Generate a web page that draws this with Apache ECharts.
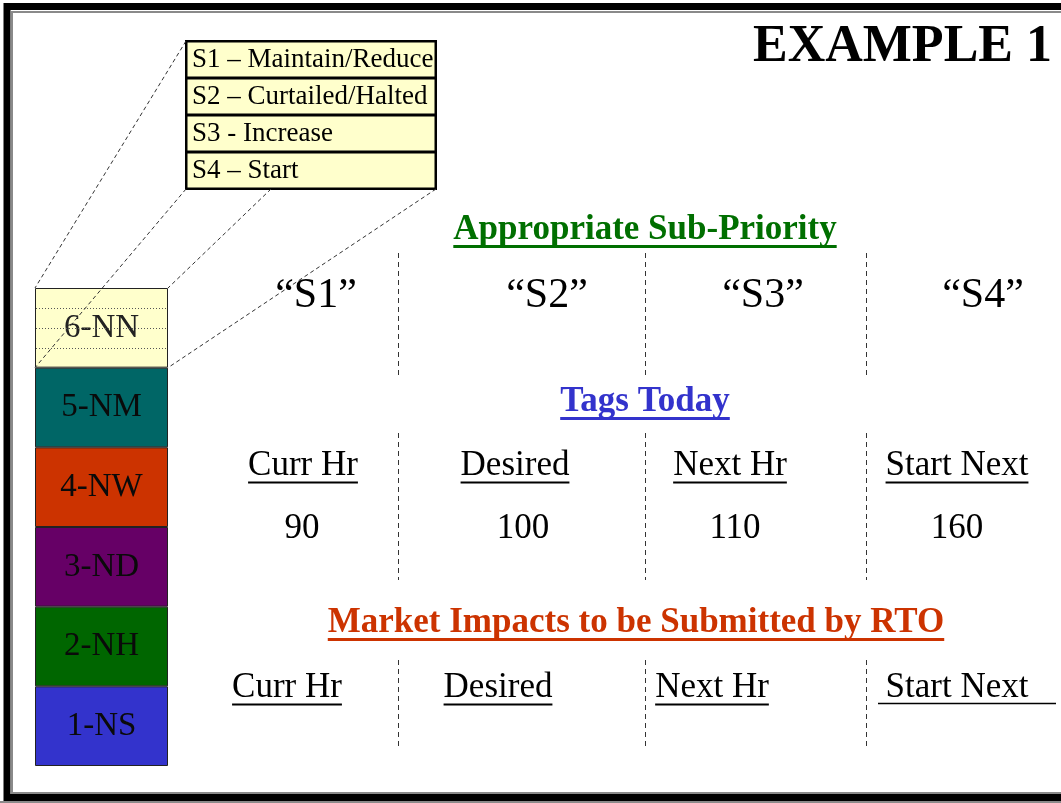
<!DOCTYPE html>
<html><head><meta charset="utf-8">
<script src="https://cdn.jsdelivr.net/npm/echarts@6/dist/echarts.min.js"></script>
<style>html,body{margin:0;padding:0;background:#fff;overflow:hidden}#c{width:1061px;height:803px}</style>
</head><body><div id="c"></div>
<script>
// ---- data ----
const blockLabels = ['1-NS', '2-NH', '3-ND', '4-NW', '5-NM', '6-NN'];
const blockValues = [1, 1, 1, 1, 1, 1];
const subPriorityNames = ['S1 – Maintain/Reduce', 'S2 – Curtailed/Halted', 'S3 - Increase', 'S4 – Start'];
const subPriorityValues = [1, 1, 1, 1];
const subPriorityCodes = ['“S1”', '“S2”', '“S3”', '“S4”'];
const columnLabels = ['Curr Hr', 'Desired', 'Next Hr', 'Start Next'];
const tagsTodayValues = [90, 100, 110, 160];
const titleText = 'EXAMPLE 1';
const headings = ['Appropriate Sub-Priority', 'Tags Today', 'Market Impacts to be Submitted by RTO'];

// ---- styles / layout ----
const blockColors = ['#3333cc', '#006600', '#660066', '#cc3300', '#006666', '#ffffcc'];
const FF = '"Liberation Serif","Times New Roman",serif';
const stackGrid = { left: 35, top: 288, width: 133, height: 478 };
const legendGrid = { left: 186, top: 41, width: 250, height: 148 };

const chart = echarts.init(document.getElementById('c'), null, { renderer: 'canvas' });

const series = blockLabels.map((name, i) => ({
  type: 'bar', name: name, stack: 'p', xAxisIndex: 0, yAxisIndex: 0,
  barWidth: '100%', data: [blockValues[i]],
  itemStyle: { color: blockColors[i], borderColor: '#222', borderWidth: 1 },
  label: { show: true, position: 'inside', formatter: name, fontFamily: FF, fontSize: 33, color: i === 5 ? '#222' : '#0a0a0a' }
}));
series.push({
  type: 'bar', xAxisIndex: 1, yAxisIndex: 1, barWidth: '100%', data: subPriorityValues,
  itemStyle: { color: '#ffffcc', borderColor: '#000', borderWidth: 1.5 },
  label: { show: true, position: 'insideLeft', distance: 6, formatter: p => subPriorityNames[p.dataIndex],
    fontFamily: FF, fontSize: 27, color: '#000' }
});

chart.setOption({
  animation: false,
  backgroundColor: '#fff',
  grid: [
    Object.assign({ containLabel: false }, stackGrid),
    Object.assign({ containLabel: false }, legendGrid)
  ],
  xAxis: [
    { gridIndex: 0, type: 'category', data: ['p'], show: false },
    { gridIndex: 1, type: 'value', min: 0, max: 1, show: false }
  ],
  yAxis: [
    { gridIndex: 0, type: 'value', min: 0, max: 6, show: false },
    { gridIndex: 1, type: 'category', data: subPriorityNames, inverse: true, show: false }
  ],
  series: series
});

// ---- overlay graphics ----
const ctx = document.createElement('canvas').getContext('2d');
function textW(txt, font) { ctx.font = font; return ctx.measureText(txt).width; }

const g = [];
function text(t, x, y, size, opts) {
  opts = opts || {};
  const font = (opts.bold ? 'bold ' : '') + size + 'px ' + FF;
  const align = opts.align || 'center';
  g.push({ type: 'text', x: x, y: y, silent: true, z: 10,
    style: { text: String(t), font: font, fill: opts.color || '#000', align: align, verticalAlign: 'middle' } });
  if (opts.underline) {
    const w = textW(String(t), font);
    const x0 = align === 'center' ? x - w / 2 : (align === 'right' ? x - w : x);
    const uy = Math.round(y + size * 0.45) + 0.5;
    g.push({ type: 'line', silent: true, z: 10, shape: { x1: x0, y1: uy, x2: x0 + w, y2: uy },
      style: { stroke: opts.color || '#000', lineWidth: opts.bold ? 3 : 2 } });
  }
}
function line(x1, y1, x2, y2, stroke, lw, dash) {
  g.push({ type: 'line', silent: true, z: 10, shape: { x1: x1, y1: y1, x2: x2, y2: y2 },
    style: { stroke: stroke, lineWidth: lw, lineDash: dash || null } });
}

// frame
g.push({ type: 'rect', silent: true, shape: { x: 7, y: 6.5, width: 1070, height: 791 }, style: { fill: 'none', stroke: '#000', lineWidth: 7 } });
g.push({ type: 'rect', silent: true, shape: { x: 12, y: 12, width: 1060, height: 781 }, style: { fill: 'none', stroke: '#8a8a8a', lineWidth: 2 } });
line(0, 802, 1061, 802, '#8a8a8a', 2);

// stack geometry through axis scale
const sL = stackGrid.left, sR = stackGrid.left + stackGrid.width;
const yTop6 = chart.convertToPixel({ yAxisIndex: 0 }, 6);
const yBot6 = chart.convertToPixel({ yAxisIndex: 0 }, 5);
[5.25, 5.5, 5.75].forEach(v => {
  const yy = Math.round(chart.convertToPixel({ yAxisIndex: 0 }, v)) + 0.5;
  line(sL + 1, yy, sR - 1, yy, '#555', 1, [1, 2]);
});

// legend box outline
const lL = legendGrid.left, lR = legendGrid.left + legendGrid.width;
const lT = legendGrid.top, lB = legendGrid.top + legendGrid.height;
g.push({ type: 'rect', silent: true, z: 10, shape: { x: lL, y: lT, width: legendGrid.width, height: legendGrid.height }, style: { fill: 'none', stroke: '#000', lineWidth: 2 } });

// connectors
const midLegendX = chart.convertToPixel({ xAxisIndex: 1 }, 0.34);
line(lL, lT, sL, yTop6, '#333', 1, [4, 3]);
line(lL, lB, sL, yBot6, '#333', 1, [4, 3]);
line(midLegendX, lB, sR, yTop6, '#333', 1, [4, 3]);
line(lR, lB, sR, yBot6, '#333', 1, [4, 3]);

// title
text(titleText, 1052, 48, 52, { bold: true, align: 'right' });

// headings
text(headings[0], 645, 230, 35, { bold: true, color: '#006f00', underline: true });
text(headings[1], 645, 402, 35, { bold: true, color: '#3333cc', underline: true });
text(headings[2], 636, 623, 35, { bold: true, color: '#cc3300', underline: true });

// separators
[398, 645, 866].forEach(x => {
  [[253, 375], [433, 580], [660, 750]].forEach(seg => line(x + 0.5, seg[0], x + 0.5, seg[1], '#333', 1, [5, 4]));
});

// rows
const codeX = [316, 547, 763, 983];
const row2X = [303, 515, 730, 957];
const valX = [302, 523, 735, 957];
const row3X = [287, 498, 712, 957];
subPriorityCodes.forEach((t, i) => text(t, codeX[i], 296, 42));
columnLabels.forEach((t, i) => text(t, row2X[i], 466, 35, { underline: true }));
tagsTodayValues.forEach((v, i) => text(v, valX[i], 529, 35));
columnLabels.forEach((t, i) => text(t, row3X[i], 688, 35, { underline: i < 3 }));
line(878, 703.5, 1056, 703.5, '#000', 1.5);

chart.setOption({ graphic: { elements: g } });
</script>
</body></html>
